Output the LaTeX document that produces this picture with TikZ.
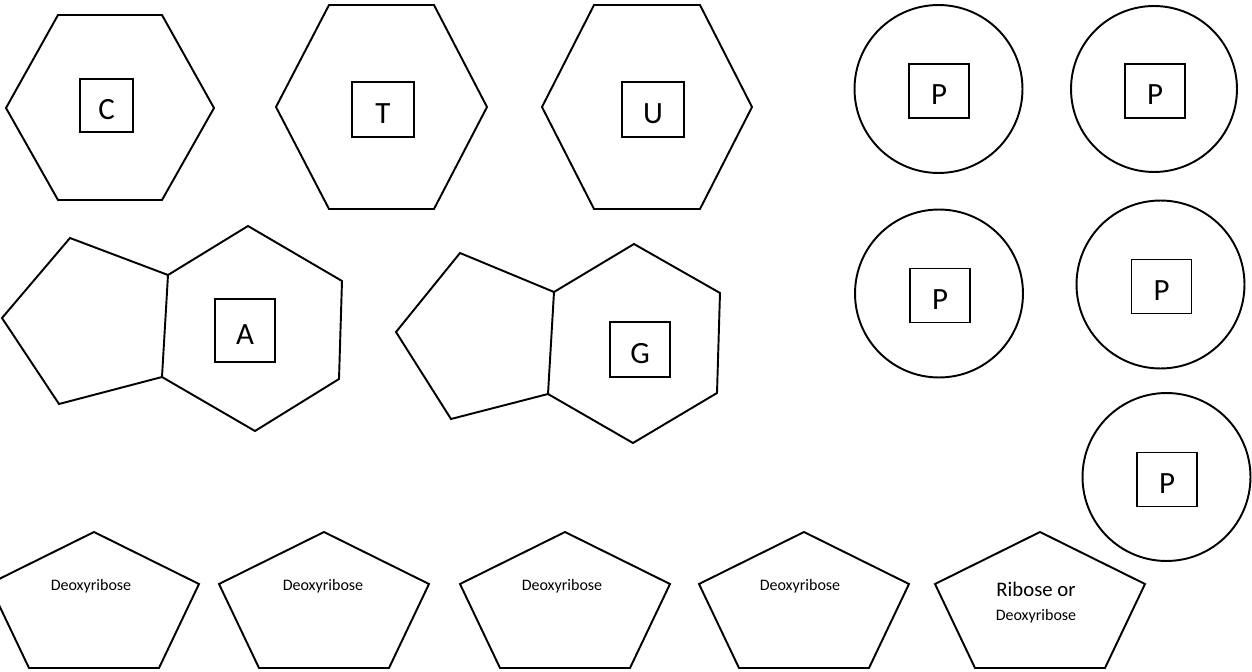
\documentclass[tikz,border=0pt]{standalone}
\usepackage{fontspec}
\setmainfont{Carlito}
\usetikzlibrary{positioning}

\begin{document}
\begin{tikzpicture}[x=0.02cm,y=-0.02cm,line width=1.1pt,
  letterbox/.style={draw,rectangle,inner sep=0pt,text height=0.55cm,text depth=0pt,
    font=\fontsize{17.6}{20}\selectfont},
  phosphate/.style={draw,circle,inner sep=0pt,minimum size=3.36cm},
  sugartext/.style={font=\fontsize{9.1}{11}\selectfont,anchor=base}]
\useasboundingbox (0,0) rectangle (1252,672);

% pyrimidines
\draw (6,108) -- (58,15) -- (162,15) -- (214,108) -- (162,200) -- (58,200) -- cycle;
\node[letterbox,minimum width=1.06cm,minimum height=1.06cm] (C) at (106.5,105.5) {C};
\draw (276,107) -- (329,5) -- (434,5) -- (487,107) -- (434,209) -- (329,209) -- cycle;
\node[letterbox,minimum width=1.24cm,minimum height=1.10cm] (T) at (383,109.5) {T};
\draw (542,107) -- (594,5) -- (700,5) -- (752,107) -- (700,209) -- (594,209) -- cycle;
\node[letterbox,minimum width=1.24cm,minimum height=1.10cm] (U) at (653,109.5) {U};

% purines
\draw (70,238) -- (168,275) -- (162,377) -- (59,404) -- (2,318) -- cycle;
\draw (168,275) -- (248,226) -- (342,281) -- (339,379) -- (255,431) -- (162,377);
\node[letterbox,minimum width=1.2cm,minimum height=1.26cm] (A) at (245,330.5) {A};
\draw (460,253) -- (554,292) -- (548,394) -- (451,419) -- (396,332) -- cycle;
\draw (554,292) -- (634,244) -- (720,293) -- (717,393) -- (633,443) -- (548,394);
\node[letterbox,minimum width=1.2cm,minimum height=1.1cm] (G) at (640,349.5) {G};

% phosphates
\node[phosphate] (p1) at (938.5,89) {};
\node[phosphate,minimum size=3.32cm] (p2) at (1154,89) {};
\node[phosphate] (p3) at (939,293.5) {};
\node[phosphate] (p4) at (1160.5,284.5) {};
\node[phosphate] (p5) at (1166.5,477) {};
\node[letterbox,minimum width=1.2cm,minimum height=1.08cm] (P1) at (939,91) {P};
\node[letterbox,minimum width=1.2cm,minimum height=1.08cm] (P2) at (1155,91) {P};
\node[letterbox,minimum width=1.2cm,minimum height=1.08cm] (P3) at (940,295.5) {P};
\node[letterbox,minimum width=1.2cm,minimum height=1.08cm] (P4) at (1161.5,286.5) {P};
\node[letterbox,minimum width=1.2cm,minimum height=1.08cm] (P5) at (1167,479.5) {P};

% sugars
\foreach \cx in {94,324,565,804,1040}
  \draw (\cx,532) -- (\cx+105,584) -- (\cx+65,668) -- (\cx-65,668) -- (\cx-105,584) -- cycle;
\node[sugartext] (s1) at (91,590) {Deoxyribose};
\node[sugartext] (s2) at (323,590) {Deoxyribose};
\node[sugartext] (s3) at (562,590) {Deoxyribose};
\node[sugartext] (s4) at (800,590) {Deoxyribose};
\node[sugartext,font=\fontsize{11.8}{13}\selectfont] (s5) at (1036,596) {Ribose or};
\node[sugartext] (s5b) at (1036,620) {Deoxyribose};

\end{tikzpicture}
\end{document}
